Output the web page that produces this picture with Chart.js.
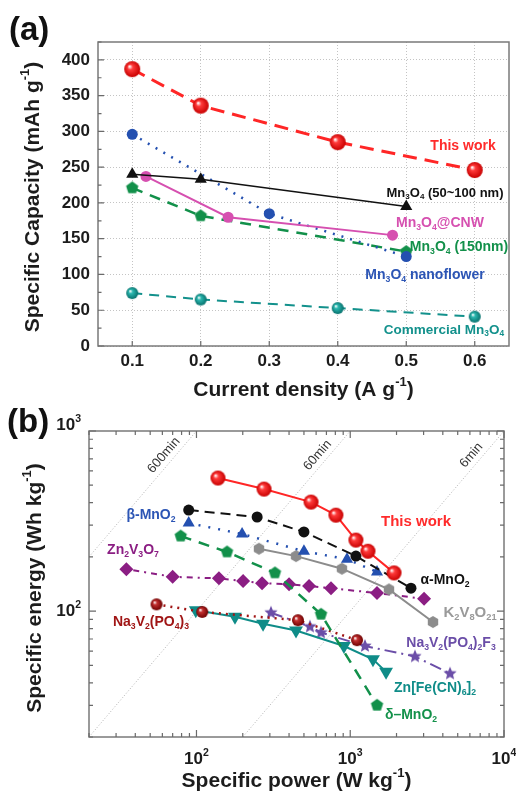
<!DOCTYPE html>
<html>
<head>
<meta charset="utf-8">
<title>Mn3O4 rate capability and Ragone plot</title>
<script src="https://cdn.jsdelivr.net/npm/chart.js@4.4.1/dist/chart.umd.min.js"></script>
<style>
  html, body { margin: 0; padding: 0; background: #fff; }
  canvas { position: absolute; left: 0; }
  #chartA { top: 0; }
  #chartB { top: 400px; }
</style>
</head>
<body>
<canvas id="chartA" width="516" height="400"></canvas>
<canvas id="chartB" width="516" height="393"></canvas>
<script>
// ===========================
// DATA (a) - rate capability
// ===========================
const xTicksA = [0.1, 0.2, 0.3, 0.4, 0.5, 0.6];
const yTicksA = [0, 50, 100, 150, 200, 250, 300, 350, 400];

const thisWorkA   = [[0.1, 387], [0.2, 336], [0.4, 285], [0.6, 246]];
const mn50A       = [[0.1, 240], [0.2, 233], [0.5, 195]];
const cnwA        = [[0.12, 237], [0.24, 180], [0.48, 155]];
const nanoflowerA = [[0.1, 296], [0.3, 185], [0.5, 125]];
const mn150A      = [[0.1, 221], [0.2, 182], [0.5, 132]];
const commercialA = [[0.1, 74], [0.2, 65], [0.4, 53], [0.6, 41]];

// ===========================
// DATA (b) - Ragone plot
// ===========================
const xTicksB = [100, 1000, 10000];
const yTicksB = [100, 1000];

const thisWorkB = [[138, 548], [275, 476], [556, 403], [807, 341], [1089, 248], [1304, 215], [1927, 163]];
const alphaB    = [[89, 364], [248, 333], [500, 275], [1089, 202], [2483, 134]];
const betaB     = [[89, 308], [198, 268], [500, 215], [953, 194], [1493, 165]];
const deltaB    = [[79, 261], [158, 213], [324, 163], [646, 96], [1493, 30]];
const znvoB     = [[35, 171], [70, 155], [140, 152], [201, 147], [267, 143], [400, 141], [540, 138], [750, 134], [1493, 126], [3020, 117]];
const kvoB      = [[255, 222], [444, 202], [883, 172], [1786, 132], [3451, 87]];
const nvpB      = [[55, 109], [109, 99], [457, 89], [1107, 69]];
const znfeB     = [[99, 101], [178, 93], [271, 85], [444, 78], [910, 64], [1406, 54], [1710, 46]];
const nvpfB     = [[305, 98], [547, 82], [646, 76], [1247, 64], [2635, 56], [4455, 45]];

// constant discharge-time guide lines: label, hours (E = P * h)
const timeLines = [['600min', 10], ['60min', 1], ['6min', 0.1]];

// ===========================
// HELPERS
// ===========================
const FONT = '"Liberation Sans", Arial, Helvetica, sans-serif';

// text with _{sub} and ^{sup}
function richParts(s) {
  const parts = [];
  const re = /([_^])\{([^}]*)\}/g;
  let last = 0, m;
  while ((m = re.exec(s))) {
    if (m.index > last) parts.push({ t: s.slice(last, m.index), k: '' });
    parts.push({ t: m[2], k: m[1] });
    last = re.lastIndex;
  }
  if (last < s.length) parts.push({ t: s.slice(last), k: '' });
  return parts;
}

function drawRich(ctx, s, x, y, size, color, align, weight) {
  const w8 = weight || 'bold';
  const font = sz => `${w8} ${sz}px ${FONT}`;
  const parts = richParts(s);
  let total = 0;
  parts.forEach(p => {
    ctx.font = font(p.k ? size * 0.62 : size);
    p.w = ctx.measureText(p.t).width;
    total += p.w;
  });
  let cx = align === 'center' ? x - total / 2 : align === 'right' ? x - total : x;
  ctx.fillStyle = color;
  ctx.textBaseline = 'middle';
  ctx.textAlign = 'left';
  parts.forEach(p => {
    ctx.font = font(p.k ? size * 0.62 : size);
    const dy = p.k === '_' ? size * 0.3 : p.k === '^' ? -size * 0.36 : 0;
    ctx.fillText(p.t, cx, y + dy);
    cx += p.w;
  });
}

function drawVertical(ctx, s, x, y, size, color) {
  ctx.save();
  ctx.translate(x, y);
  ctx.rotate(-Math.PI / 2);
  drawRich(ctx, s, 0, 0, size, color, 'center');
  ctx.restore();
}

// marker sprites
function sprite(r, paint) {
  const c = document.createElement('canvas');
  const s = Math.ceil(r * 2 + 2);
  c.width = c.height = s;
  const g = c.getContext('2d');
  g.translate(s / 2, s / 2);
  paint(g, r);
  return c;
}

function sphere(light, dark, r) {
  return sprite(r, (g, r) => {
    const gr = g.createRadialGradient(-r * 0.35, -r * 0.35, r * 0.05, 0, 0, r);
    gr.addColorStop(0, '#ffffff');
    gr.addColorStop(0.3, light);
    gr.addColorStop(1, dark);
    g.fillStyle = gr;
    g.beginPath();
    g.arc(0, 0, r, 0, Math.PI * 2);
    g.fill();
  });
}

function poly(color, r, n, inner) {
  return sprite(r, (g, r) => {
    const k = inner ? n * 2 : n;
    g.fillStyle = color;
    g.beginPath();
    for (let i = 0; i < k; i++) {
      const a = -Math.PI / 2 + i * Math.PI * 2 / k;
      const rr = inner && i % 2 ? r * inner : r;
      g.lineTo(Math.cos(a) * rr, Math.sin(a) * rr);
    }
    g.closePath();
    g.fill();
  });
}

function line(points, color, opts) {
  return Object.assign({
    data: points.map(([x, y]) => ({ x, y })),
    showLine: true,
    borderColor: color,
    backgroundColor: color,
    pointBackgroundColor: color,
    pointBorderWidth: 0,
    borderWidth: 2,
    pointRadius: 5.5,
    fill: false,
    tension: 0
  }, opts);
}

function plainAxis(type, min, max, ticks, grid) {
  return {
    type, min, max,
    afterBuildTicks: s => { s.ticks = ticks.map(v => ({ value: v })); },
    ticks: { display: false },
    grid: grid ? { color: '#c4c4c4', lineWidth: 1, drawTicks: false } : { display: false, drawTicks: false },
    border: { display: false, dash: [1, 2] }
  };
}

function drawFrame(ctx, a) {
  ctx.strokeStyle = '#7a7a7a';
  ctx.lineWidth = 1.5;
  ctx.strokeRect(a.left, a.top, a.right - a.left, a.bottom - a.top);
}

// ===========================
// GRAFIK (a)
// ===========================
const decorA = {
  id: 'decorA',
  afterDraw(chart) {
    const { ctx, chartArea: a, scales: { x, y } } = chart;
    ctx.save();
    drawFrame(ctx, a);

    // tick marks inside the frame
    ctx.strokeStyle = '#6a6a6a';
    ctx.lineWidth = 1.2;
    ctx.beginPath();
    for (let v = 0; v <= 425; v += 25) {
      const p = y.getPixelForValue(v);
      const len = v % 50 === 0 ? 6 : 3.5;
      ctx.moveTo(a.left, p); ctx.lineTo(a.left + len, p);
    }
    xTicksA.forEach(v => {
      const p = x.getPixelForValue(v);
      ctx.moveTo(p, a.bottom); ctx.lineTo(p, a.bottom - 5);
    });
    ctx.stroke();

    // tick labels
    xTicksA.forEach(v => drawRich(ctx, String(v), x.getPixelForValue(v), a.bottom + 15, 17, '#1c1c1c', 'center'));
    yTicksA.forEach(v => drawRich(ctx, String(v), a.left - 8, y.getPixelForValue(v), 17, '#1c1c1c', 'right'));

    // axis titles
    drawRich(ctx, 'Current density (A g^{-1})', (a.left + a.right) / 2, 390, 21, '#1c1c1c', 'center');
    drawVertical(ctx, 'Specific Capacity (mAh g^{-1})', 33, 197, 21, '#1c1c1c');
    drawRich(ctx, '(a)', 9, 31, 33, '#111', 'left');

    // series labels
    drawRich(ctx, 'This work', 463, 146, 14, '#ff2b2b', 'center');
    drawRich(ctx, 'Mn_{3}O_{4} (50~100 nm)', 445, 193, 13, '#111', 'center');
    drawRich(ctx, 'Mn_{3}O_{4}@CNW', 440, 223, 14, '#d650b0', 'center');
    drawRich(ctx, 'Mn_{3}O_{4} (150nm)', 459, 247, 14, '#12904a', 'center');
    drawRich(ctx, 'Mn_{3}O_{4} nanoflower', 425, 275, 14, '#2c55b5', 'center');
    drawRich(ctx, 'Commercial Mn_{3}O_{4}', 444, 330, 13.5, '#13918c', 'center');
    ctx.restore();
  }
};

new Chart(document.getElementById('chartA'), {
  type: 'scatter',
  data: {
    datasets: [
      line(thisWorkA, '#ff2626', { borderWidth: 3, borderDash: [14, 8], pointStyle: sphere('#ff3a3a', '#c80000', 8) }),
      line(mn50A, '#111111', { borderWidth: 1.5, pointStyle: 'triangle', pointRadius: 7 }),
      line(cnwA, '#d650b0', { borderWidth: 2, pointStyle: 'circle', pointRadius: 5.5 }),
      line(nanoflowerA, '#2450b0', { borderWidth: 2.5, borderDash: [2, 7], pointStyle: 'circle', pointRadius: 5.5 }),
      line(mn150A, '#12904a', { borderWidth: 2.5, borderDash: [11, 8], pointStyle: poly('#12904a', 6.5, 5) }),
      line(commercialA, '#13918c', { borderWidth: 2, borderDash: [10, 7], pointStyle: sphere('#2cb8b0', '#06706c', 6) })
    ]
  },
  options: {
    responsive: false,
    animation: false,
    layout: { padding: { left: 98, right: 6, top: 42, bottom: 54 } },
    plugins: { legend: { display: false }, tooltip: { enabled: false } },
    scales: {
      x: plainAxis('linear', 0.05, 0.65, xTicksA, true),
      y: plainAxis('linear', 0, 425, yTicksA, true)
    }
  },
  plugins: [decorA]
});

// ===========================
// GRAFIK (b)
// ===========================
function logMinors(lo, hi) {
  const out = [];
  for (let d = 1; d <= 1000; d *= 10) {
    for (let m = 2; m <= 9; m++) if (m * d >= lo && m * d <= hi) out.push(m * d);
  }
  return out;
}

const decorB = {
  id: 'decorB',
  afterDraw(chart) {
    const { ctx, chartArea: a, scales: { x, y } } = chart;
    ctx.save();
    drawFrame(ctx, a);

    // tick marks on all four sides, pointing inwards
    ctx.strokeStyle = '#6a6a6a';
    ctx.lineWidth = 1.2;
    ctx.beginPath();
    const yMaj = yTicksB, xMaj = xTicksB;
    yMaj.concat(logMinors(20, 1000)).forEach(v => {
      const p = y.getPixelForValue(v);
      const len = yMaj.includes(v) ? 7 : 4;
      ctx.moveTo(a.left, p); ctx.lineTo(a.left + len, p);
      ctx.moveTo(a.right, p); ctx.lineTo(a.right - len, p);
    });
    xMaj.concat(logMinors(20, 10000)).forEach(v => {
      const p = x.getPixelForValue(v);
      const len = xMaj.includes(v) ? 7 : 4;
      ctx.moveTo(p, a.bottom); ctx.lineTo(p, a.bottom - len);
      ctx.moveTo(p, a.top); ctx.lineTo(p, a.top + len);
    });
    ctx.stroke();

    // tick labels
    xTicksB.forEach(v => drawRich(ctx, '10^{' + Math.log10(v) + '}', x.getPixelForValue(v), a.bottom + 22, 17, '#1c1c1c', 'center'));
    yTicksB.forEach(v => {
      const p = y.getPixelForValue(v) + (v === 1000 ? -6 : 0);
      drawRich(ctx, '10^{' + Math.log10(v) + '}', a.left - 8, p, 17, '#1c1c1c', 'right');
    });

    // time guide labels
    timeLines.forEach(([label, h]) => {
      const e0 = 680;
      const px = x.getPixelForValue(e0 / h), py = y.getPixelForValue(e0);
      const qx = x.getPixelForValue(e0 * 10 / h), qy = y.getPixelForValue(e0 * 10);
      const len = Math.hypot(qx - px, qy - py);
      const dx = (qx - px) / len, dy = (qy - py) / len;
      ctx.save();
      ctx.translate(px + dy * 9, py - dx * 9);
      ctx.rotate(Math.atan2(dy, dx));
      drawRich(ctx, label, 0, 0, 13, '#333', 'center', 'normal');
      ctx.restore();
    });

    // axis titles
    drawRich(ctx, 'Specific power (W kg^{-1})', (a.left + a.right) / 2, 381, 21, '#1c1c1c', 'center');
    drawVertical(ctx, 'Specific energy (Wh kg^{-1})', 35, 188, 21, '#1c1c1c');
    drawRich(ctx, '(b)', 7, 23, 33, '#111', 'left');

    // series labels
    drawRich(ctx, 'This work', 416, 122, 15, '#ff2b2b', 'center');
    drawRich(ctx, 'α-MnO_{2}', 445, 180, 14, '#111', 'center');
    drawRich(ctx, 'β-MnO_{2}', 151, 115, 14, '#2c55b5', 'center');
    drawRich(ctx, 'Zn_{2}V_{3}O_{7}', 133, 150, 14, '#8b1e83', 'center');
    drawRich(ctx, 'K_{2}V_{8}O_{21}', 470, 213, 15, '#9a9a9a', 'center');
    drawRich(ctx, 'Na_{3}V_{2}(PO_{4})_{3}', 151, 222, 14, '#a01515', 'center');
    drawRich(ctx, 'Na_{3}V_{2}(PO_{4})_{2}F_{3}', 451, 243, 14, '#6b4ea8', 'center');
    drawRich(ctx, 'Zn[Fe(CN)_{6}]_{2}', 435, 288, 14, '#0f8c88', 'center');
    drawRich(ctx, 'δ–MnO_{2}', 411, 315, 14, '#13914a', 'center');
    ctx.restore();
  }
};

const guideSets = timeLines.map(([label, h]) => ({
  data: [{ x: 2, y: 2 * h }, { x: 100000, y: 100000 * h }],
  showLine: true,
  borderColor: '#b0b0b0',
  borderWidth: 1,
  borderDash: [1, 2],
  pointRadius: 0,
  fill: false
}));

new Chart(document.getElementById('chartB'), {
  type: 'scatter',
  data: {
    datasets: [
      line(thisWorkB, '#ff2626', { borderWidth: 2, pointStyle: sphere('#ff3a3a', '#c80000', 7.5) }),
      line(alphaB, '#111111', { borderWidth: 2, borderDash: [10, 6], pointStyle: 'circle', pointRadius: 5.5 }),
      line(betaB, '#2450b0', { borderWidth: 2.5, borderDash: [2, 8], pointStyle: 'triangle', pointRadius: 7 }),
      line(kvoB, '#8c8c8c', { borderWidth: 2, pointStyle: poly('#8c8c8c', 6, 6) }),
      line(deltaB, '#12904a', { borderWidth: 2.5, borderDash: [11, 8], pointStyle: poly('#12904a', 6.5, 5) }),
      line(znvoB, '#8b1e83', { borderWidth: 2, borderDash: [2, 5, 6, 5], pointStyle: 'rectRot', pointRadius: 7 }),
      line(nvpB, '#a01515', { borderWidth: 2.5, borderDash: [2, 5], pointStyle: sphere('#c23030', '#6e0000', 6) }),
      line(znfeB, '#0f8c88', { borderWidth: 2, pointStyle: 'triangle', pointRotation: 180, pointRadius: 8 }),
      line(nvpfB, '#6b4ea8', { borderWidth: 2, borderDash: [12, 5, 2, 5], pointStyle: poly('#6b4ea8', 7, 5, 0.45) })
    ].concat(guideSets)
  },
  options: {
    responsive: false,
    animation: false,
    layout: { padding: { left: 89, right: 12, top: 31, bottom: 56 } },
    plugins: { legend: { display: false }, tooltip: { enabled: false } },
    scales: {
      x: plainAxis('logarithmic', 20, 10000, xTicksB, false),
      y: plainAxis('logarithmic', 20, 1000, yTicksB, false)
    }
  },
  plugins: [decorB]
});
</script>
</body>
</html>
